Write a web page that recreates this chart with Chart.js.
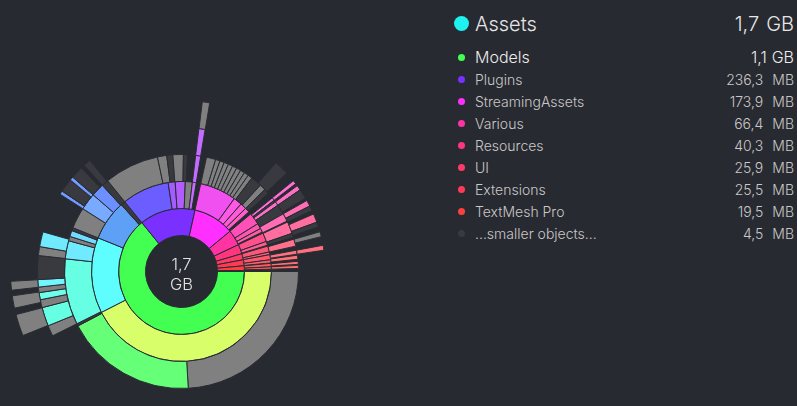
<!DOCTYPE html>
<html><head><meta charset="utf-8">
<script src="https://cdn.jsdelivr.net/npm/chart.js@4.4.1/dist/chart.umd.min.js"></script>
<style>
html,body{margin:0;padding:0;background:#282a31;width:797px;height:406px;overflow:hidden;font-family:Inter,"Noto Sans",sans-serif;}
#sun{position:absolute;left:10px;top:100px;}
.ctr{position:absolute;left:141.5px;width:80px;text-align:center;color:#e2e2e2;font-size:16.5px;font-weight:300;line-height:1;}
.item{position:absolute;left:0;width:797px;line-height:1;white-space:nowrap;}
.item .dot{position:absolute;border-radius:50%;}
.item .name{position:absolute;left:475px;top:0;}
.item .val{position:absolute;right:3px;top:0;}
</style></head>
<body>
<canvas id="sun" width="343" height="343"></canvas>
<div class="ctr" style="top:256.3px">1,7</div>
<div class="ctr" style="top:275.5px">GB</div>
<div id="legend"></div>
<script>
// ---- data (sizes in MB, clockwise from 3 o'clock) ----
const rootName = 'Assets';
const rootSize = '1,7';
const rootUnit = 'GB';
const legendNames = ['Models','Plugins','StreamingAssets','Various','Resources','UI','Extensions','TextMesh Pro','...smaller objects...'];
const legendNumbers = ['1,1','236,3','173,9','66,4','40,3','25,9','25,5','19,5','4,5'];
const legendUnits = ['GB','MB','MB','MB','MB','MB','MB','MB','MB'];

const ring1Values = [1060, 236.3, 173.9, 66.4, 40.3, 25.9, 25.5, 19.5, 4.5];
const ring1Kinds  = ['models','plugins','streaming','various','resources','ui','extensions','textmesh','smaller'];

const ring2Values = [702.2, 224.9, 119.3, 13.5, 140.2, 20.7, 29.8, 20.7, 11.5, 13.3, 108.3, 25.2, 18.4, 13.8, 8.3, 35.3, 16.1, 11.5, 3.7, 26.2, 11.5, 2.8, 17.9, 7.8, 15.1, 9.2, 1.4, 10.1, 6.9, 6.9];
const ring2Kinds  = ['yellow','cyan','blue','dark','violet','purpleA','purpleB','grey','spike','gap','magenta1','magenta2','magenta3','magenta4','gap','pinkA','pinkB','pinkC','gap','roseA','roseB','gap','redA','redB','redC','redD','gap','redE','redF','gap'];

const ring3Values = [397.9, 301.1, 5.5, 150.5, 41.3, 10.1, 13.8, 6.9, 48.2, 39.0, 29.8, 15.8,
  125.1, 21.1, 13.8, 23.9, 9.2, 18.4, 11.5, 13.3,
  21.1, 10.2, 10.2, 10.2, 10.2, 10.2, 10.2, 10.2, 10.2, 10.2, 25.2, 13.8, 11.5, 13.8,
  6.9, 4.6, 9.2, 22.9, 18.4, 2.3, 27.5, 9.2, 4.6, 16.1, 9.2, 9.2, 2.3, 9.2, 4.6, 6.9, 2.3, 6.9, 6.9];
const ring3Kinds  = ['grey','green','dark','aqua','lcyan','grey','lcyan2','dark','grey','lblue','blue2','dark',
  'grey','grey','dark','grey','dark','gap','spike','gap',
  'grey','grey','grey','grey','grey','grey','grey','grey','grey','grey','dark','grey','dark','gap',
  'pink1','dark','pink2','dark','pink3','gap','pink4','dark','gap','pink5','gap','pink6','gap','pink7','gap','pink8','gap','pink9','gap'];

const ring4Values = [704.5, 20.2, 34.9, 14.7, 13.3, 10.1, 13.8, 44.1, 16.5, 27.5, 75.7, 6.9, 25.2, 6.9, 22.9, 6.9, 13.8,
  213.4, 11.5, 144.6, 27.5, 18.4, 6.9, 4.6, 9.2, 18.4, 4.6, 11.5, 9.2, 6.9, 16.1, 9.2, 9.2, 9.2, 16.1, 9.2, 39.0];
const ring4Kinds  = ['gap','grey','aqua','grey','aqua2','grey','lcyan3','dark','grey','lcyan','gap','bstripe','dark','bstripe','dark','gap','dark',
  'gap','spike','gap','dark','gap','pink1','gap','pink2','dark','gap','pink3','dark','gap','pink4','dark','gap','grey','gap','pink6','gap'];

const ring5Values = [725.2, 34.0, 10.1, 19.3, 8.7, 13.8, 460.3, 11.5, 369.5];
const ring5Kinds  = ['gap','grey','gap','grey','gap','grey','gap','grey','gap'];

// ---- styles ----
const palette = {
  models:'#42ff52', plugins:'#7a30ff', streaming:'#ff30ff', various:'#ff33a2', resources:'#ff3580',
  ui:'#ff3a68', extensions:'#ff3a56', textmesh:'#ff4040', smaller:'#393a3f',
  yellow:'#d8ff6a', cyan:'#5efefe', blue:'#5ea0f6', dark:'#393a3f', violet:'#6b5dff',
  purpleA:'#a35cff', purpleB:'#b25cff', grey:'#808080', spike:'#c46cff',
  magenta1:'#f050f0', magenta2:'#ff58e6', magenta3:'#ff5ad8', magenta4:'#ff5cc8',
  pinkA:'#ff50b8', pinkB:'#ff55b0', pinkC:'#ff5aa6', roseA:'#ff4f8c', roseB:'#ff5a92',
  redA:'#ff5577', redB:'#ff5a80', redC:'#ff5868', redD:'#ff5d70', redE:'#ff5858', redF:'#ff5e5e',
  green:'#66ff78', aqua:'#66ffe4', aqua2:'#6cffea', lcyan:'#70eaff', lcyan2:'#70dcff', lcyan3:'#70f6ff',
  lblue:'#78aaff', blue2:'#6c90ff', bstripe:'#6f9aff',
  pink1:'#ff6ed4', pink2:'#ff6ec6', pink3:'#ff6eb4', pink4:'#ff6e9e', pink5:'#ff708a',
  pink6:'#ff7080', pink7:'#ff7078', pink8:'#ff7070', pink9:'#ff6c6c',
  gap:'rgba(0,0,0,0)'
};
const legendDotKinds = ['models','plugins','streaming','various','resources','ui','extensions','textmesh','smaller'];

function ds(values, kinds){
  return {
    data: values,
    backgroundColor: kinds.map(k => palette[k]),
    borderColor: '#2a2c33',
    borderWidth: kinds.map(k => k === 'gap' ? 0 : 1),
    hoverOffset: 0
  };
}

new Chart(document.getElementById('sun'), {
  type: 'doughnut',
  data: {
    labels: ring1Kinds,
    datasets: [ds(ring5Values, ring5Kinds), ds(ring4Values, ring4Kinds), ds(ring3Values, ring3Kinds), ds(ring2Values, ring2Kinds), ds(ring1Values, ring1Kinds)]
  },
  options: {
    responsive: false, animation: false, events: [],
    cutout: 36, rotation: 90, circumference: 360,
    layout: { padding: 0 },
    plugins: { legend: { display: false }, tooltip: { enabled: false } }
  }
});

// ---- legend ----
const leg = document.getElementById('legend');
function addRow(top, size, weight, color, dotSize, dotTop, dotColor, name, num, unit, unitGap){
  const d = document.createElement('div');
  d.className = 'item';
  d.style.top = top + 'px';
  d.style.fontSize = size + 'px';
  d.style.fontWeight = weight;
  d.style.color = color;
  const dot = document.createElement('span');
  dot.className = 'dot';
  dot.style.width = dotSize + 'px'; dot.style.height = dotSize + 'px';
  dot.style.left = (461.7 - dotSize/2) + 'px';
  dot.style.top = dotTop + 'px';
  dot.style.background = dotColor;
  const n = document.createElement('span'); n.className = 'name'; n.textContent = name;
  const v = document.createElement('span'); v.className = 'val';
  const vn = document.createElement('span'); vn.textContent = num;
  const vu = document.createElement('span'); vu.textContent = unit; vu.style.marginLeft = unitGap + 'px';
  v.appendChild(vn); v.appendChild(vu);
  d.appendChild(dot); d.appendChild(n); d.appendChild(v);
  leg.appendChild(d);
}
addRow(14.4, 20, 300, '#e6e6e6', 15, 2.1, '#1ff0f0', rootName, rootSize, rootUnit, 7);
addRow(48.6, 16, 300, '#ececec', 7.5, 5.2, palette[legendDotKinds[0]], legendNames[0], legendNumbers[0], legendUnits[0], 5);
for (let i = 1; i < legendNames.length; i++) {
  const base = 85 + 22*(i-1);
  addRow(base - 12.1, 14, 300, '#c8c8c8', 7, 3.6, palette[legendDotKinds[i]], legendNames[i], legendNumbers[i], legendUnits[i], 9);
}
</script>
</body></html>
